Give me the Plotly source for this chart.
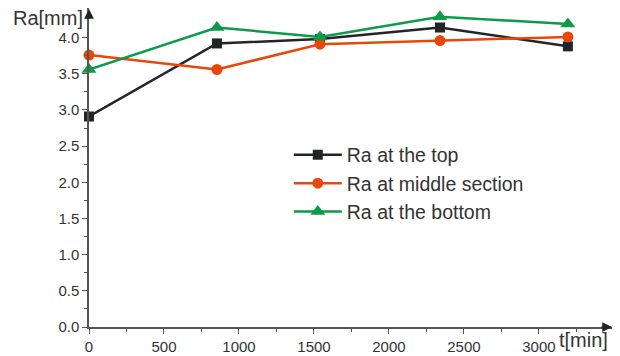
import plotly.graph_objects as go

t_min = [0, 853, 1540, 2340, 3193]
ra_top = [2.91, 3.92, 3.98, 4.14, 3.88]
ra_middle = [3.76, 3.56, 3.91, 3.96, 4.01]
ra_bottom = [3.56, 4.14, 4.01, 4.29, 4.19]
series_names = ["Ra at the top", "Ra at middle section", "Ra at the bottom"]
x_ticks = [0, 500, 1000, 1500, 2000, 2500, 3000]
y_ticks = [0.0, 0.5, 1.0, 1.5, 2.0, 2.5, 3.0, 3.5, 4.0]

FONT = "Liberation Sans, Arial, sans-serif"
AX = "#555"

fig = go.Figure()
styles = [
    (ra_top, "#222428", "square", 10),
    (ra_middle, "#e8470c", "circle", 11),
    (ra_bottom, "#0d9a4a", "triangle-up", 13),
]
for name, (vals, col, sym, sz) in zip(series_names, styles):
    fig.add_trace(go.Scatter(
        x=t_min, y=vals, name=name, mode="lines+markers",
        line=dict(color=col, width=2.5),
        marker=dict(symbol=sym, size=sz, color=col),
        cliponaxis=False,
    ))

# page has an 8px body margin, so the figure is 612x348 offset by (8, 8)
fig.update_layout(
    width=612, height=348,
    margin=dict(l=81, r=8, t=0, b=29),
    paper_bgcolor="white", plot_bgcolor="white",
    font=dict(family=FONT, color="#333", size=15),
    showlegend=True,
    legend=dict(x=0.382, y=0.60, xanchor="left", yanchor="top",
                font=dict(size=19.5, color="#333"), bgcolor="rgba(0,0,0,0)",
                itemwidth=48, tracegroupgap=0),
)
fig.update_xaxes(
    range=[0, 3487], tickvals=x_ticks, ticktext=[str(v) for v in x_ticks],
    automargin=False,
    showgrid=False, zeroline=False, showline=True, linecolor=AX, linewidth=1.5,
    ticks="outside", ticklen=5, tickcolor=AX, tickfont=dict(size=15, color="#333"),
    minor=dict(tickvals=[250, 750, 1250, 1750, 2250, 2750, 3250], ticks="outside", ticklen=3, tickcolor=AX),
)
fig.update_yaxes(
    range=[0, 4.41], tickvals=y_ticks, ticktext=[f"{v:.1f}" for v in y_ticks],
    automargin=False,
    showgrid=False, zeroline=False, showline=True, linecolor=AX, linewidth=1.5,
    ticks="outside", ticklen=5, tickcolor=AX, tickfont=dict(size=15, color="#333"),
    minor=dict(tickvals=[0.25, 0.75, 1.25, 1.75, 2.25, 2.75, 3.25, 3.75], ticks="outside", ticklen=3, tickcolor=AX),
)
# axis arrows
fig.add_annotation(x=1, y=0, xref="paper", yref="paper", ax=-12, ay=0, axref="pixel", ayref="pixel",
                   showarrow=True, arrowhead=2, arrowsize=1.3, arrowwidth=1.5, arrowcolor="#222", text="")
fig.add_annotation(x=0, y=1, xref="paper", yref="paper", ax=0, ay=12, axref="pixel", ayref="pixel",
                   showarrow=True, arrowhead=2, arrowsize=1.3, arrowwidth=1.5, arrowcolor="#222", text="")
# axis titles
fig.add_annotation(x=0, y=1, xref="paper", yref="paper", xanchor="right", yanchor="middle", xshift=-4, yshift=-10,
                   text="Ra[mm]", showarrow=False, font=dict(size=20, color="#333", family=FONT))
fig.add_annotation(x=1, y=0, xref="paper", yref="paper", xanchor="right", yanchor="middle", xshift=-2, yshift=-13,
                   text="t[min]", showarrow=False, font=dict(size=20, color="#333", family=FONT))

fig.write_html("out.html")
